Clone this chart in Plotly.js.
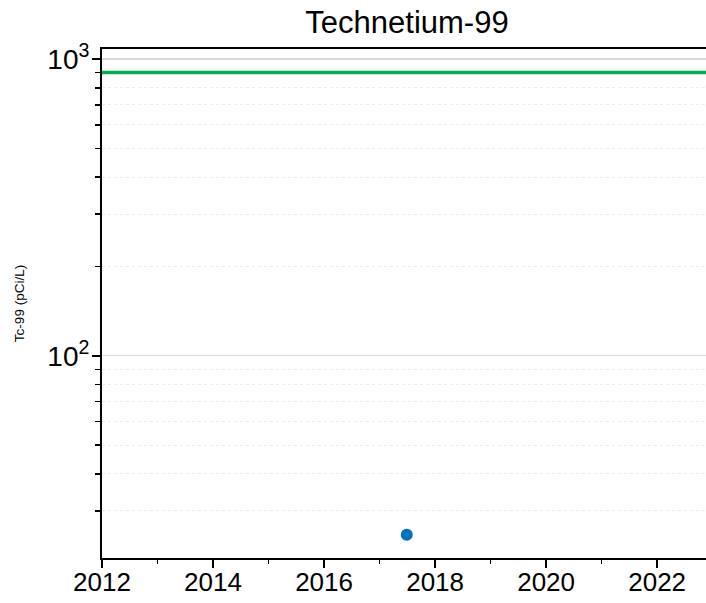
<!DOCTYPE html>
<html>
<head>
<meta charset="utf-8">
<script src="https://cdn.plot.ly/plotly-3.0.1.min.js"></script>
<style>html,body{margin:0;padding:0;background:#fff}#chart{width:706px;height:603px}</style>
</head>
<body>
<div id="chart"></div>
<script>
// Data
const sampleYears = [2017.49];
const tc99Values = [24.9];
const limitValue = [900];
const xRange = [2012, 2022.88];
const yRange = [20.8, 1081];
const xTickVals = [2012, 2014, 2016, 2018, 2020, 2022];
const xTickText = ['2012', '2014', '2016', '2018', '2020', '2022'];
const xMinorVals = [2013, 2015, 2017, 2019, 2021];
const yTickVals = [100, 1000];
const yTickText = ['10<sup>2</sup>', '10<sup>3</sup>'];
const yMinorVals = [30, 40, 50, 60, 70, 80, 90, 200, 300, 400, 500, 600, 700, 800, 900];
const titleText = 'Technetium-99';
const yTitle = 'Tc-99 (pCi/L)';

const traces = [{
  x: sampleYears,
  y: tc99Values,
  type: 'scatter',
  mode: 'markers',
  marker: {color: '#0070c0', size: 12},
  showlegend: false,
  hoverinfo: 'x+y'
}];

const layout = {
  width: 706, height: 603,
  margin: {l: 102, r: 0, t: 49, b: 45},
  paper_bgcolor: '#fff', plot_bgcolor: '#fff',
  font: {family: 'Liberation Sans, Arial, sans-serif', color: '#000'},
  title: {text: titleText, font: {size: 31, color: '#000'}, x: 0.5765, xanchor: 'center', y: 0.963, yanchor: 'middle'},
  showlegend: false,
  xaxis: {
    range: xRange,
    tickmode: 'array',
    tickvals: xTickVals,
    ticktext: xTickText,
    ticks: 'outside', ticklen: 8, tickwidth: 2, tickcolor: '#000',
    tickfont: {size: 26, color: '#000'},
    ticklabelstandoff: -8,
    showgrid: false, zeroline: false,
    showline: true, linecolor: '#000', linewidth: 2, mirror: true,
    minor: {tickvals: xMinorVals, ticks: 'outside', ticklen: 4, tickwidth: 1.5, tickcolor: '#000', showgrid: false}
  },
  yaxis: {
    type: 'log',
    range: [Math.log10(yRange[0]), Math.log10(yRange[1])],
    tickmode: 'array',
    tickvals: yTickVals,
    ticktext: yTickText,
    ticks: 'outside', ticklen: 8, tickwidth: 2, tickcolor: '#000',
    tickfont: {size: 28, color: '#000'},
    ticklabelstandoff: -3,
    showgrid: true, gridcolor: '#d9d9d9', gridwidth: 1.2,
    zeroline: false,
    showline: true, linecolor: '#000', linewidth: 2, mirror: false,
    title: {text: yTitle, font: {size: 13.5, color: '#000'}, standoff: 20},
    minor: {
      tickvals: yMinorVals,
      ticks: 'outside', ticklen: 5, tickwidth: 1.5, tickcolor: '#000',
      showgrid: true, gridcolor: '#ebebeb', gridwidth: 1, griddash: 'dot'
    }
  },
  shapes: [{
    type: 'line', xref: 'paper', x0: 0, x1: 1, yref: 'y',
    y0: limitValue[0], y1: limitValue[0],
    line: {color: '#00b050', width: 3.5}
  }]
};

Plotly.newPlot('chart', traces, layout, {displayModeBar: false, staticPlot: true});
</script>
</body>
</html>
